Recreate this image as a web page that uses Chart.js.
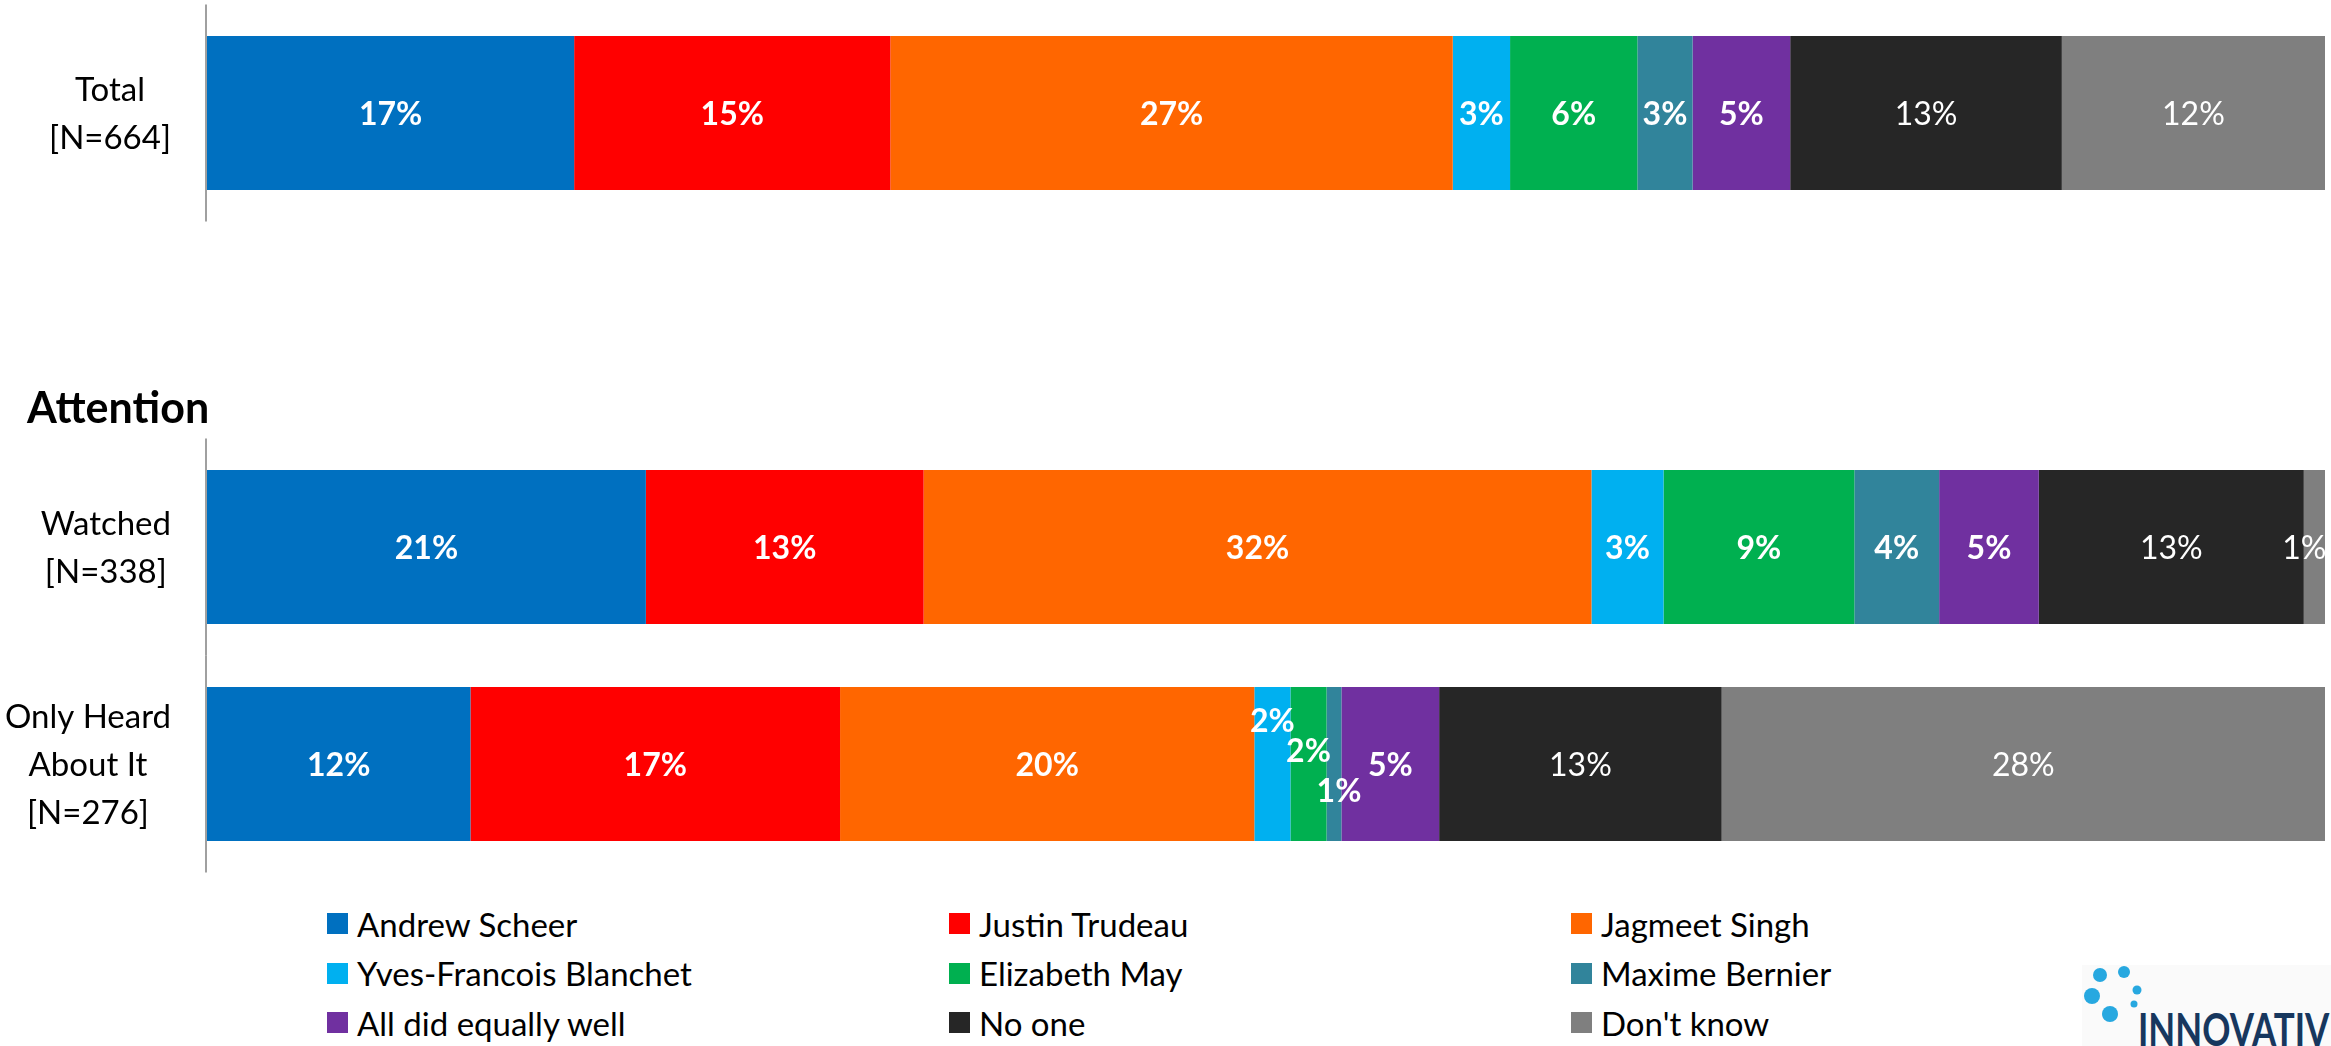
<!DOCTYPE html>
<html>
<head>
<meta charset="utf-8">
<script src="https://cdn.jsdelivr.net/npm/chart.js@4.4.1/dist/chart.umd.min.js"></script>
<style>
  body { margin: 0; background: #fff; width: 2331px; height: 1046px; overflow: hidden; position: relative; font-family: Lato, sans-serif; }
  #wrap { position: absolute; left: 0; top: 0; width: 2326px; height: 880px; }
  #legend { position: absolute; left: 327px; top: 899px; display: grid; grid-template-columns: 622px 622px 400px; grid-auto-rows: 49.5px; }
  .item { display: flex; align-items: center; font-size: 33px; color: #000; white-space: nowrap; }
  .box { width: 21px; height: 21px; margin-right: 9px; flex: none; }
  #logo { position: absolute; left: 2082px; top: 965px; width: 249px; height: 81px; background: #fafafa; overflow: hidden; }
  #logo svg { position: absolute; left: 0; top: 0; }
  #logo span { position: absolute; left: 56px; top: 41px; font: 700 46px Lato, sans-serif; line-height: 1; color: #17375e; transform: scaleX(0.76); transform-origin: left top; white-space: nowrap; }
</style>
</head>
<body>
<div id="wrap"><canvas id="myChart"></canvas></div>
<div id="legend"></div>
<div id="logo">
  <svg width="70" height="60">
    <circle cx="18" cy="10" r="7" fill="#27a8e0"/>
    <circle cx="42" cy="7" r="6" fill="#27a8e0"/>
    <circle cx="55" cy="25" r="4.5" fill="#27a8e0"/>
    <circle cx="10" cy="31" r="8" fill="#27a8e0"/>
    <circle cx="52" cy="39" r="3.5" fill="#27a8e0"/>
    <circle cx="28" cy="49" r="8" fill="#27a8e0"/>
  </svg>
  <span>INNOVATIVE</span>
</div>
<script>
const categories = [['Total', '[N=664]'], '', ['Watched', '[N=338]'], ['Only Heard', 'About It', '[N=276]']];
const groupTitle = 'Attention';

const seriesNames = ['Andrew Scheer', 'Justin Trudeau', 'Jagmeet Singh', 'Yves-Francois Blanchet', 'Elizabeth May',
    'Maxime Bernier', 'All did equally well', 'No one', "Don't know"];
const seriesColors = ['#0070C0', '#FF0000', '#FF6600', '#00B0F0', '#00B050', '#31849B', '#7030A0', '#262626', '#7F7F7F'];

// percentages per row: Total, (Attention header), Watched, Only Heard About It
const andrewScheer = [17.3, null, 20.7, 12.4];
const justinTrudeau = [14.9, null, 13.1, 17.4];
const jagmeetSingh = [26.5, null, 31.5, 19.5];
const yvesFrancoisBlanchet = [2.7, null, 3.4, 1.7];
const elizabethMay = [6.0, null, 9.0, 1.7];
const maximeBernier = [2.6, null, 4.0, 0.7];
const allDidEquallyWell = [4.6, null, 4.7, 4.6];
const noOne = [12.8, null, 12.5, 13.3];
const dontKnow = [12.4, null, 1.0, 28.4];

const series = [andrewScheer, justinTrudeau, jagmeetSingh, yvesFrancoisBlanchet, elizabethMay,
    maximeBernier, allDidEquallyWell, noOne, dontKnow];

// little nudges for labels that would collide (dataset-row)
const labelShift = { '3-3': [0, -44], '4-3': [0, -14], '5-3': [5, 26], '8-2': [-10, 0] };

// 100% stacked, like the original
var rowTotals = [];
for (var i = 0; i < categories.length; i++) {
    var sum = 0;
    for (var s = 0; s < series.length; s++) {
        if (series[s][i] != null) sum += series[s][i];
    }
    rowTotals[i] = sum;
}

var datasets = [];
for (var s = 0; s < series.length; s++) {
    datasets.push({
        label: seriesNames[s],
        data: series[s].map(function (v, i) { return v == null ? null : v / rowTotals[i] * 100; }),
        rawValues: series[s],
        backgroundColor: seriesColors[s],
        borderWidth: 0,
        barPercentage: 0.71,
        categoryPercentage: 1
    });
}

const sideLabels = {
    id: 'sideLabels',
    beforeDatasetsDraw(chart) {
        const ctx = chart.ctx;
        const y = chart.scales.y;
        const left = chart.chartArea.left;
        const half = (y.getPixelForValue(1) - y.getPixelForValue(0)) / 2;
        ctx.save();
        ctx.strokeStyle = '#808080';
        ctx.lineWidth = 1.5;
        categories.forEach(function (lab, i) {
            const cy = y.getPixelForValue(i);
            if (lab === '') {
                ctx.font = 'bold 43px Lato';
                ctx.fillStyle = '#000';
                ctx.textAlign = 'left';
                ctx.fillText(groupTitle, 27, cy + 93);
                return;
            }
            ctx.beginPath();
            ctx.moveTo(left - 1, cy - half);
            ctx.lineTo(left - 1, cy + half);
            ctx.stroke();

            ctx.font = '33px Lato';
            ctx.fillStyle = '#000';
            ctx.textAlign = 'center';
            var maxW = 0;
            lab.forEach(function (line) { maxW = Math.max(maxW, ctx.measureText(line).width); });
            const cx = left - 36 - maxW / 2;
            lab.forEach(function (line, k) {
                ctx.fillText(line, cx, cy + (k - (lab.length - 1) / 2) * 48 + 12);
            });
        });
        ctx.restore();
    }
};

const barLabels = {
    id: 'barLabels',
    afterDatasetsDraw(chart) {
        const ctx = chart.ctx;
        ctx.save();
        ctx.fillStyle = '#fff';
        ctx.textAlign = 'center';
        chart.data.datasets.forEach(function (ds, d) {
            const meta = chart.getDatasetMeta(d);
            ctx.font = (d < 7 ? 'bold ' : '') + '32px Lato';
            meta.data.forEach(function (bar, i) {
                const raw = ds.rawValues[i];
                if (raw == null) return;
                const p = bar.getProps(['x', 'base', 'y'], true);
                const sh = labelShift[d + '-' + i] || [0, 0];
                ctx.fillText(Math.round(raw) + '%', (p.x + p.base) / 2 + sh[0], p.y + 12 + sh[1]);
            });
        });
        ctx.restore();
    }
};

Chart.defaults.font.family = 'Lato';

new Chart(document.getElementById('myChart'), {
    type: 'bar',
    data: {
        labels: categories,
        datasets: datasets
    },
    options: {
        indexAxis: 'y',
        responsive: true,
        maintainAspectRatio: false,
        animation: false,
        layout: { padding: { left: 207, right: 1, top: 4.5, bottom: 7.5 } },
        scales: {
            x: { stacked: true, min: 0, max: 100, display: false },
            y: { stacked: true, display: false }
        },
        plugins: {
            legend: { display: false },
            tooltip: { enabled: false }
        }
    },
    plugins: [sideLabels, barLabels]
});

// legend, three columns like the original
var legendDiv = document.getElementById('legend');
for (var s = 0; s < seriesNames.length; s++) {
    var item = document.createElement('div');
    item.className = 'item';
    item.innerHTML = '<span class="box" style="background:' + seriesColors[s] + '"></span>';
    item.appendChild(document.createTextNode(seriesNames[s]));
    legendDiv.appendChild(item);
}
</script>
</body>
</html>
